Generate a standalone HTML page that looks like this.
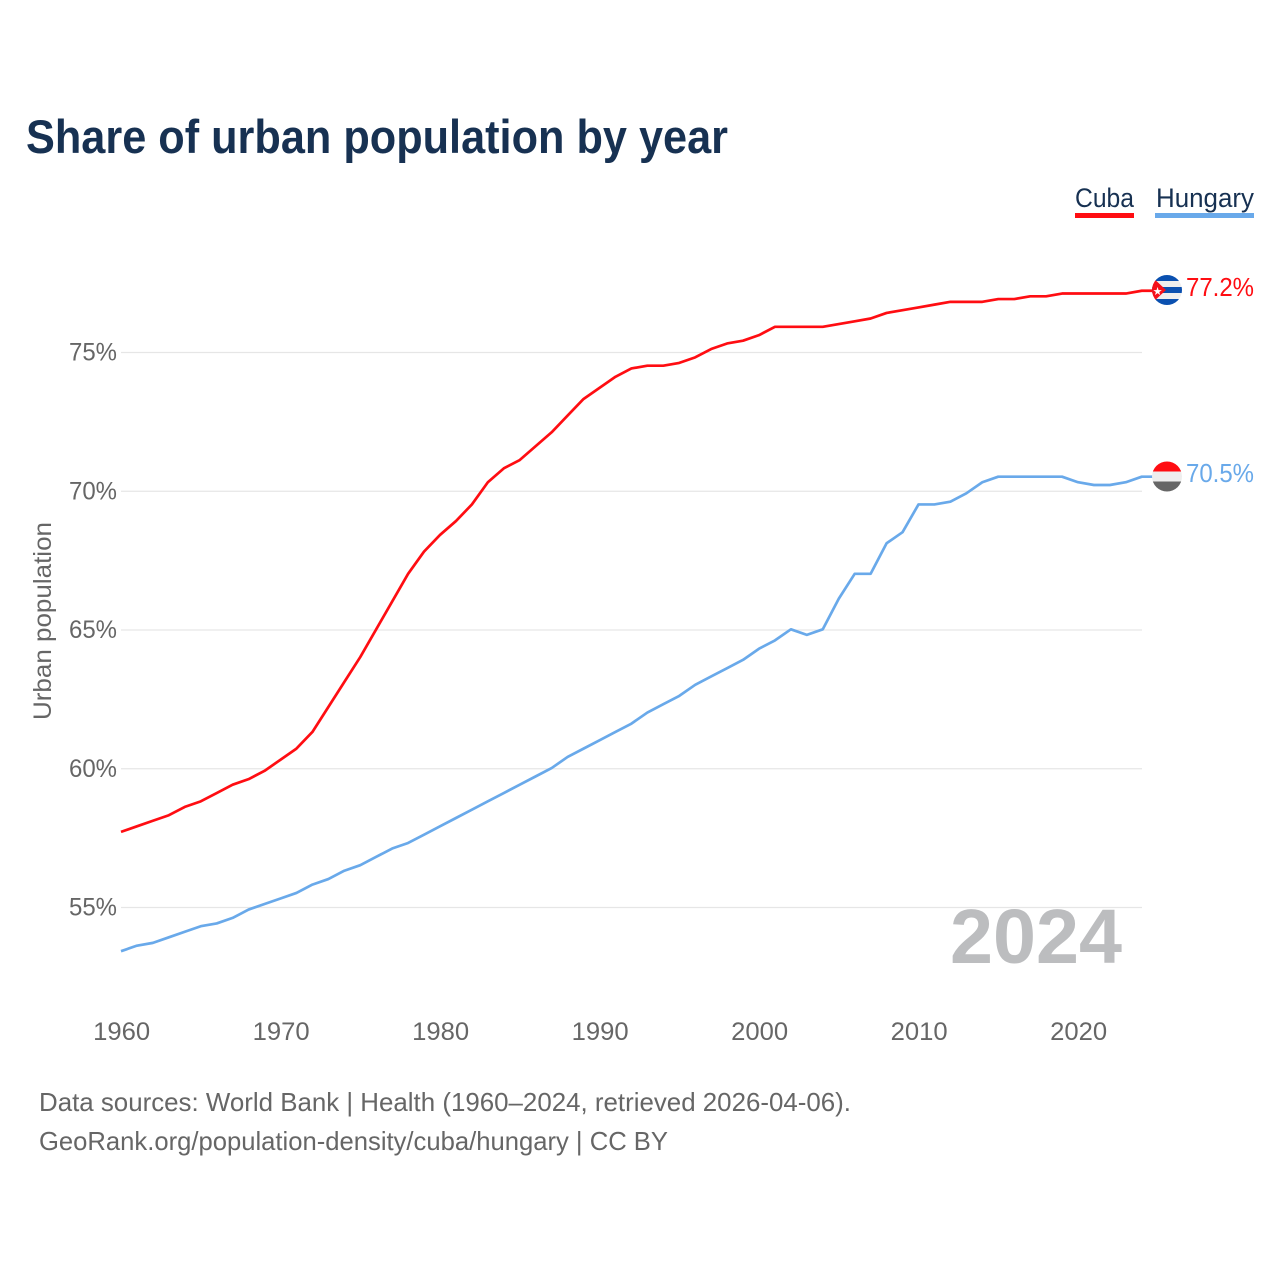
<!DOCTYPE html>
<html lang="en">
<head>
<meta charset="utf-8">
<title>Share of urban population by year</title>
<style>
html,body{margin:0;padding:0;background:#fff}
svg{display:block}
text{font-family:"Liberation Sans",sans-serif}
</style>
</head>
<body>
<svg id="chart" xmlns="http://www.w3.org/2000/svg" width="1280" height="1280" viewBox="0 0 1280 1280">
  <rect x="0" y="0" width="1280" height="1280" fill="#ffffff"/>
  <text x="26" y="153" font-size="47" font-weight="700" fill="#173152" textLength="702" lengthAdjust="spacingAndGlyphs">Share of urban population by year</text>

  <g>
    <text x="1075" y="207" font-size="27" fill="#173152" textLength="59" lengthAdjust="spacingAndGlyphs">Cuba</text>
    <rect x="1075" y="213" width="59" height="5" fill="#ff0d12"/>
    <text x="1156" y="207" font-size="27" fill="#173152" textLength="98" lengthAdjust="spacingAndGlyphs">Hungary</text>
    <rect x="1155" y="213" width="99" height="5" fill="#69a9ea"/>
  </g>

  <g id="grid"></g>
  <g id="y-axis"></g>
  <g id="x-axis"></g>
  <text transform="translate(51,621) rotate(-90)" text-anchor="middle" font-size="25" fill="#666666" textLength="198" lengthAdjust="spacingAndGlyphs">Urban population</text>

  <text x="1122" y="963" text-anchor="end" font-size="77" font-weight="700" fill="#bcbdbf" textLength="172" lengthAdjust="spacingAndGlyphs">2024</text>

  <g id="series" transform="translate(0,-0.7)"></g>

  <defs>
    <clipPath id="flag-clip-cuba"><circle cx="1167" cy="290" r="15"/></clipPath>
    <clipPath id="flag-clip-hungary"><circle cx="1167" cy="476.5" r="15"/></clipPath>
  </defs>

  <g clip-path="url(#flag-clip-cuba)">
    <rect x="1152" y="275" width="30" height="30" fill="#eeeeee"/>
    <rect x="1152" y="275" width="30" height="6" fill="#0a50b0"/>
    <rect x="1152" y="287" width="30" height="6" fill="#0a50b0"/>
    <rect x="1152" y="299" width="30" height="6" fill="#0a50b0"/>
    <polygon points="1150,275 1166,290 1150,305" fill="#f5101a"/>
    <text x="1157.5" y="295" text-anchor="middle" font-size="11" fill="#ffffff">★</text>
  </g>
  <g clip-path="url(#flag-clip-hungary)">
    <rect x="1152" y="461" width="30" height="10.5" fill="#ff0d12"/>
    <rect x="1152" y="471.5" width="30" height="10" fill="#eeeeee"/>
    <rect x="1152" y="481.5" width="30" height="10.5" fill="#666666"/>
  </g>

  <text x="1186" y="296" font-size="26" fill="#ff0d12" textLength="68" lengthAdjust="spacingAndGlyphs">77.2%</text>
  <text x="1186" y="482" font-size="26" fill="#69a9ea" textLength="68" lengthAdjust="spacingAndGlyphs">70.5%</text>

  <g>
    <text x="39" y="1111" font-size="26" fill="#666666" textLength="812" lengthAdjust="spacingAndGlyphs">Data sources: World Bank | Health (1960–2024, retrieved 2026-04-06).</text>
    <text x="39" y="1150" font-size="26" fill="#666666" textLength="629" lengthAdjust="spacingAndGlyphs">GeoRank.org/population-density/cuba/hungary | CC BY</text>
  </g>
</svg>
<script>
var startYear = 1960;
var cubaValues = [57.7,57.9,58.1,58.3,58.6,58.8,59.1,59.4,59.6,59.9,60.3,60.7,61.3,62.2,63.1,64.0,65.0,66.0,67.0,67.8,68.4,68.9,69.5,70.3,70.8,71.1,71.6,72.1,72.7,73.3,73.7,74.1,74.4,74.5,74.5,74.6,74.8,75.1,75.3,75.4,75.6,75.9,75.9,75.9,75.9,76.0,76.1,76.2,76.4,76.5,76.6,76.7,76.8,76.8,76.8,76.9,76.9,77.0,77.0,77.1,77.1,77.1,77.1,77.1,77.2];
var hungaryValues = [53.4,53.6,53.7,53.9,54.1,54.3,54.4,54.6,54.9,55.1,55.3,55.5,55.8,56.0,56.3,56.5,56.8,57.1,57.3,57.6,57.9,58.2,58.5,58.8,59.1,59.4,59.7,60.0,60.4,60.7,61.0,61.3,61.6,62.0,62.3,62.6,63.0,63.3,63.6,63.9,64.3,64.6,65.0,64.8,65.0,66.1,67.0,67.0,68.1,68.5,69.5,69.5,69.6,69.9,70.3,70.5,70.5,70.5,70.5,70.5,70.3,70.2,70.2,70.3,70.5];
var yTicks = [55,60,65,70,75];
var xTicks = [1960,1970,1980,1990,2000,2010,2020];

var NS = 'http://www.w3.org/2000/svg';
function xScale(year){ return 121 + (year - 1960) * 15.95; }
function yScale(v){ return 907.5 - (v - 55) * 27.75; }

var gridG = document.getElementById('grid');
var yG = document.getElementById('y-axis');
var xG = document.getElementById('x-axis');
var seriesG = document.getElementById('series');

yTicks.forEach(function(t){
  var line = document.createElementNS(NS,'line');
  
  
  line.setAttribute('x1', 121);
  line.setAttribute('x2', 1142);
  line.setAttribute('y1', yScale(t));
  line.setAttribute('y2', yScale(t));
  line.setAttribute('stroke', '#e6e6e6');
  line.setAttribute('stroke-width', '1.3');
  gridG.appendChild(line);

  var label = document.createElementNS(NS,'text');
  
  
  label.setAttribute('x', 117);
  label.setAttribute('y', yScale(t) + 8);
  label.setAttribute('text-anchor', 'end');
  label.setAttribute('font-size', '25');
  label.setAttribute('fill', '#666666');
  label.setAttribute('textLength', '48');
  label.setAttribute('lengthAdjust', 'spacingAndGlyphs');
  label.textContent = t + '%';
  yG.appendChild(label);
});

xTicks.forEach(function(t){
  var label = document.createElementNS(NS,'text');
  
  
  label.setAttribute('x', xScale(t) + 0.7);
  label.setAttribute('y', 1040);
  label.setAttribute('text-anchor', 'middle');
  label.setAttribute('font-size', '25');
  label.setAttribute('fill', '#666666');
  label.setAttribute('textLength', '57');
  label.setAttribute('lengthAdjust', 'spacingAndGlyphs');
  label.textContent = t;
  xG.appendChild(label);
});

function linePath(values){
  return values.map(function(v,i){
    return (i ? 'L' : 'M') + xScale(startYear + i).toFixed(2) + ' ' + yScale(v).toFixed(2);
  }).join(' ');
}

var hungaryLine = document.createElementNS(NS,'path');


hungaryLine.setAttribute('d', linePath(hungaryValues) + ' h12');
hungaryLine.setAttribute('fill', 'none');
hungaryLine.setAttribute('stroke', '#69a9ea');
hungaryLine.setAttribute('stroke-width', '2.7');
hungaryLine.setAttribute('stroke-linejoin', 'round');
seriesG.appendChild(hungaryLine);

var cubaLine = document.createElementNS(NS,'path');


cubaLine.setAttribute('d', linePath(cubaValues) + ' h12');
cubaLine.setAttribute('fill', 'none');
cubaLine.setAttribute('stroke', '#ff0d12');
cubaLine.setAttribute('stroke-width', '2.7');
cubaLine.setAttribute('stroke-linejoin', 'round');
seriesG.appendChild(cubaLine);
</script>
</body>
</html>
